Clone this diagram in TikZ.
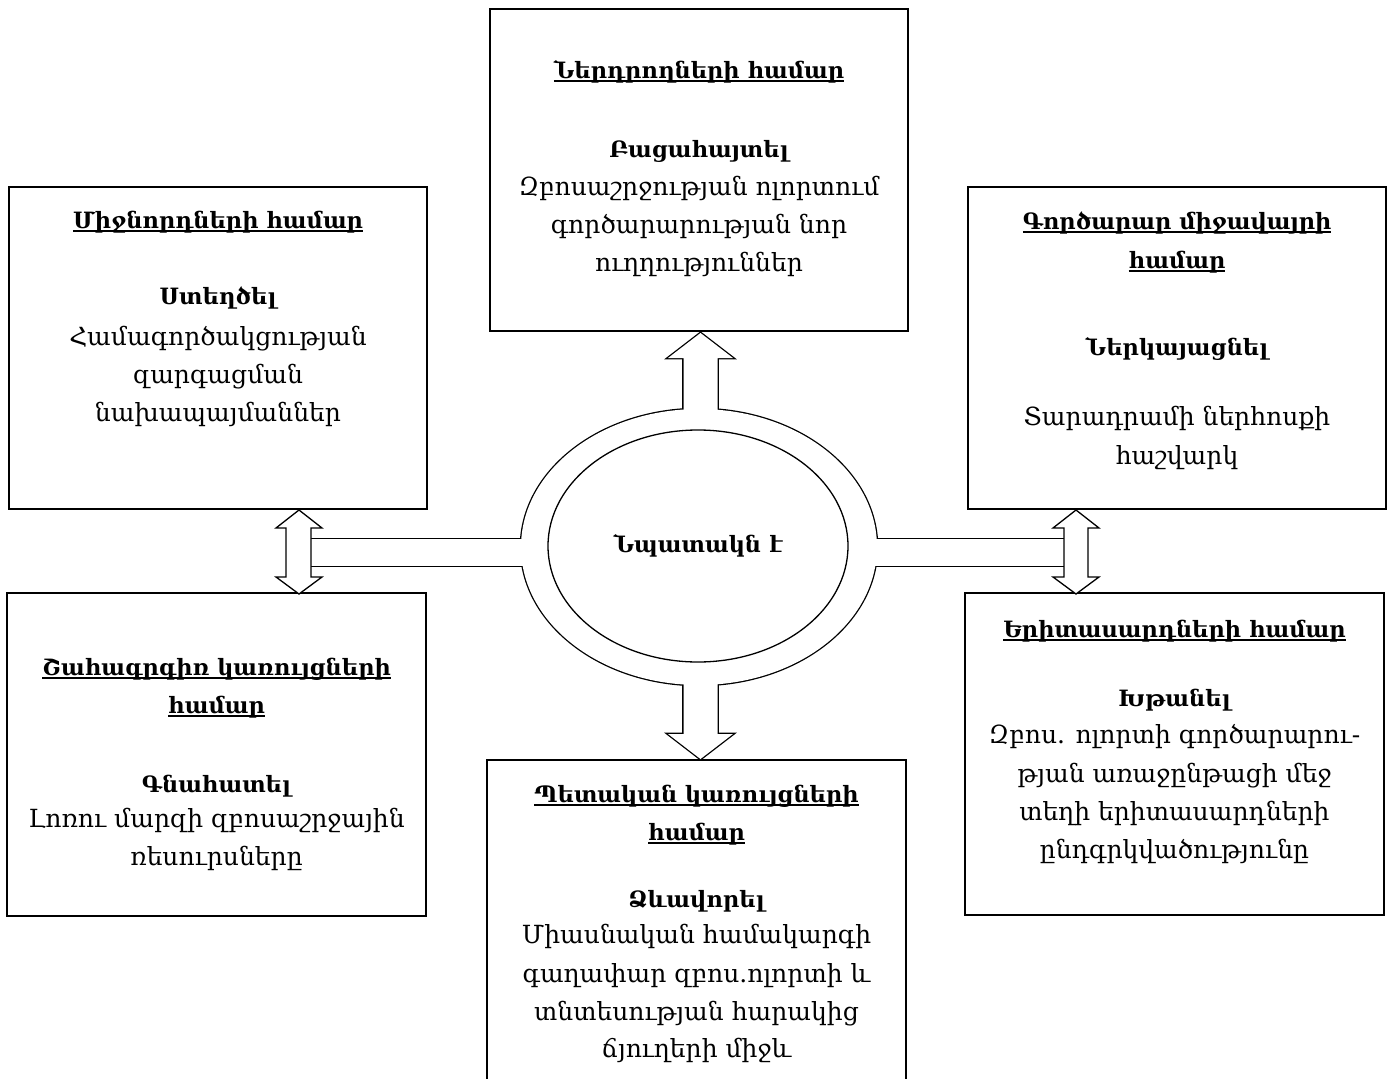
\documentclass[tikz,border=0pt]{standalone}
\usepackage{fontspec}
\setmainfont{DejaVu Serif}
\usetikzlibrary{shapes.geometric}
\newcommand\bodyfont{\fontsize{25}{36}\selectfont}
\newcommand\headfont{\fontsize{22.5}{36}\selectfont\bfseries}
\newcommand\myul[1]{{\setbox0=\hbox{#1}\rlap{\vrule height -2.4pt depth 3.8pt width \wd0}\box0}}
\begin{document}
\begin{tikzpicture}[x=1pt,y=-1pt,
  box/.style={draw, line width=1.7pt, rectangle, inner sep=0pt},
  ln/.style={anchor=base, inner sep=0pt, font=\bodyfont},
  hd/.style={anchor=base, inner sep=0pt, font=\headfont},
  shp/.style={line width=1.3pt, line join=miter},
  thick2/.style={line width=2.6pt}]
\useasboundingbox (0,0) rectangle (1393,1079);
\clip (0,0) rectangle (1393,1079);
\fill[white] (0,0) rectangle (1393,1079);

% boxes
\node[box, minimum width=418pt, minimum height=322pt] (bTop) at (699,170) {};
\node[box, minimum width=418pt, minimum height=322pt] (bLT) at (218,348) {};
\node[box, minimum width=418pt, minimum height=322pt] (bRT) at (1177,348) {};
\node[box, minimum width=419pt, minimum height=323pt] (bLB) at (216.5,754.5) {};
\node[box, minimum width=419pt, minimum height=322pt] (bRB) at (1174.5,754) {};
\node[box, minimum width=419pt, minimum height=340pt] (bBot) at (696.5,930) {};

% central ring with bars and arrows (merged outline)
\coordinate (oc) at (699,547);
\coordinate (upTip) at (700.5,333);
\coordinate (dnTip) at (700.5,759);
% outlines (double width)
\draw[thick2] (oc) ellipse [x radius=178pt, y radius=138pt];
\draw[thick2] (311,539) rectangle (600,566);
\draw[thick2] (800,539) rectangle (1065,566);
\draw[thick2] (upTip) -- ++(32.5,25) -- ++(-15.5,0) -- ++(0,250) -- ++(-34,0) -- ++(0,-250) -- ++(-15.5,0) -- cycle;
\draw[thick2] (dnTip) -- ++(32.5,-25) -- ++(-15.5,0) -- ++(0,-250) -- ++(-34,0) -- ++(0,250) -- ++(-15.5,0) -- cycle;
% white interiors
\fill[white] (oc) ellipse [x radius=178pt, y radius=138pt];
\fill[white] (311,539) rectangle (600,566);
\fill[white] (800,539) rectangle (1065,566);
\fill[white] (upTip) -- ++(32.5,25) -- ++(-15.5,0) -- ++(0,250) -- ++(-34,0) -- ++(0,-250) -- ++(-15.5,0) -- cycle;
\fill[white] (dnTip) -- ++(32.5,-25) -- ++(-15.5,0) -- ++(0,-250) -- ++(-34,0) -- ++(0,250) -- ++(-15.5,0) -- cycle;

% double arrows between side boxes
\coordinate (lTip) at (299,510);
\coordinate (rTip) at (1076,510);
\draw[shp, fill=white] (lTip) -- ++(23,18) -- ++(-11,0) -- ++(0,49) -- ++(11,0) -- ++(-23,17) -- ++(-23,-17) -- ++(10,0) -- ++(0,-49) -- ++(-10,0) -- cycle;
\draw[shp, fill=white] (rTip) -- ++(23,18) -- ++(-11,0) -- ++(0,49) -- ++(11,0) -- ++(-23,17) -- ++(-23,-17) -- ++(11,0) -- ++(0,-49) -- ++(-11,0) -- cycle;

% inner ellipse with goal text
\node[ellipse, draw, shp, fill=white, minimum width=300pt, minimum height=232pt, inner sep=0pt,
      font=\headfont] (goal) at (698,546) {Նպատակն է};

% top box text
\node[hd] (t0) at (699,78) {\myul{Ներդրողների համար}};
\node[hd] (t1) at (699,157) {Բացահայտել};
\node[ln] (t2) at (699,195) {Զբոսաշրջության ոլորտում};
\node[ln] (t3) at (699,233) {գործարարության նոր};
\node[ln] (t4) at (699,271) {ուղղություններ};

% left top box
\node[hd] (a0) at (218,228) {\myul{Միջնորդների համար}};
\node[hd] (a1) at (218,304) {Ստեղծել};
\node[ln] (a2) at (218,345) {Համագործակցության};
\node[ln] (a3) at (218,383) {զարգացման};
\node[ln] (a4) at (218,421) {նախապայմաններ};

% right top box
\node[hd] (c0) at (1177,229) {\myul{Գործարար միջավայրի}};
\node[hd] (c1) at (1177,268) {\myul{համար}};
\node[hd] (c2) at (1177,355) {Ներկայացնել};
\node[ln] (c3) at (1177,425) {Տարադրամի ներհոսքի};
\node[ln] (c4) at (1177,464) {հաշվարկ};

% left bottom box
\node[hd] (d0) at (216.5,675) {\myul{Շահագրգիռ կառույցների}};
\node[hd] (d1) at (216.5,713) {\myul{համար}};
\node[hd] (d2) at (216.5,792) {Գնահատել};
\node[ln] (d3) at (216.5,827) {Լոռու մարզի զբոսաշրջային};
\node[ln] (d4) at (216.5,865) {ռեսուրսները};

% right bottom box
\node[hd] (e0) at (1174.5,637) {\myul{Երիտասարդների համար}};
\node[hd] (e1) at (1174.5,706) {Խթանել};
\node[ln] (e2) at (1174.5,743) {Զբոս. ոլորտի գործարարու-};
\node[ln] (e3) at (1174.5,782) {թյան առաջընթացի մեջ};
\node[ln] (e4) at (1174.5,820) {տեղի երիտասարդների};
\node[ln] (e5) at (1174.5,858) {ընդգրկվածությունը};

% bottom box
\node[hd] (f0) at (696.5,802) {\myul{Պետական կառույցների}};
\node[hd] (f1) at (696.5,840) {\myul{համար}};
\node[hd] (f2) at (696.5,907) {Ձևավորել};
\node[ln] (f3) at (696.5,943) {Միասնական համակարգի};
\node[ln] (f4) at (696.5,982) {գաղափար զբոս.ոլորտի և};
\node[ln] (f5) at (696.5,1020) {տնտեսության հարակից};
\node[ln] (f6) at (696.5,1057) {ճյուղերի միջև};
\end{tikzpicture}
\end{document}
